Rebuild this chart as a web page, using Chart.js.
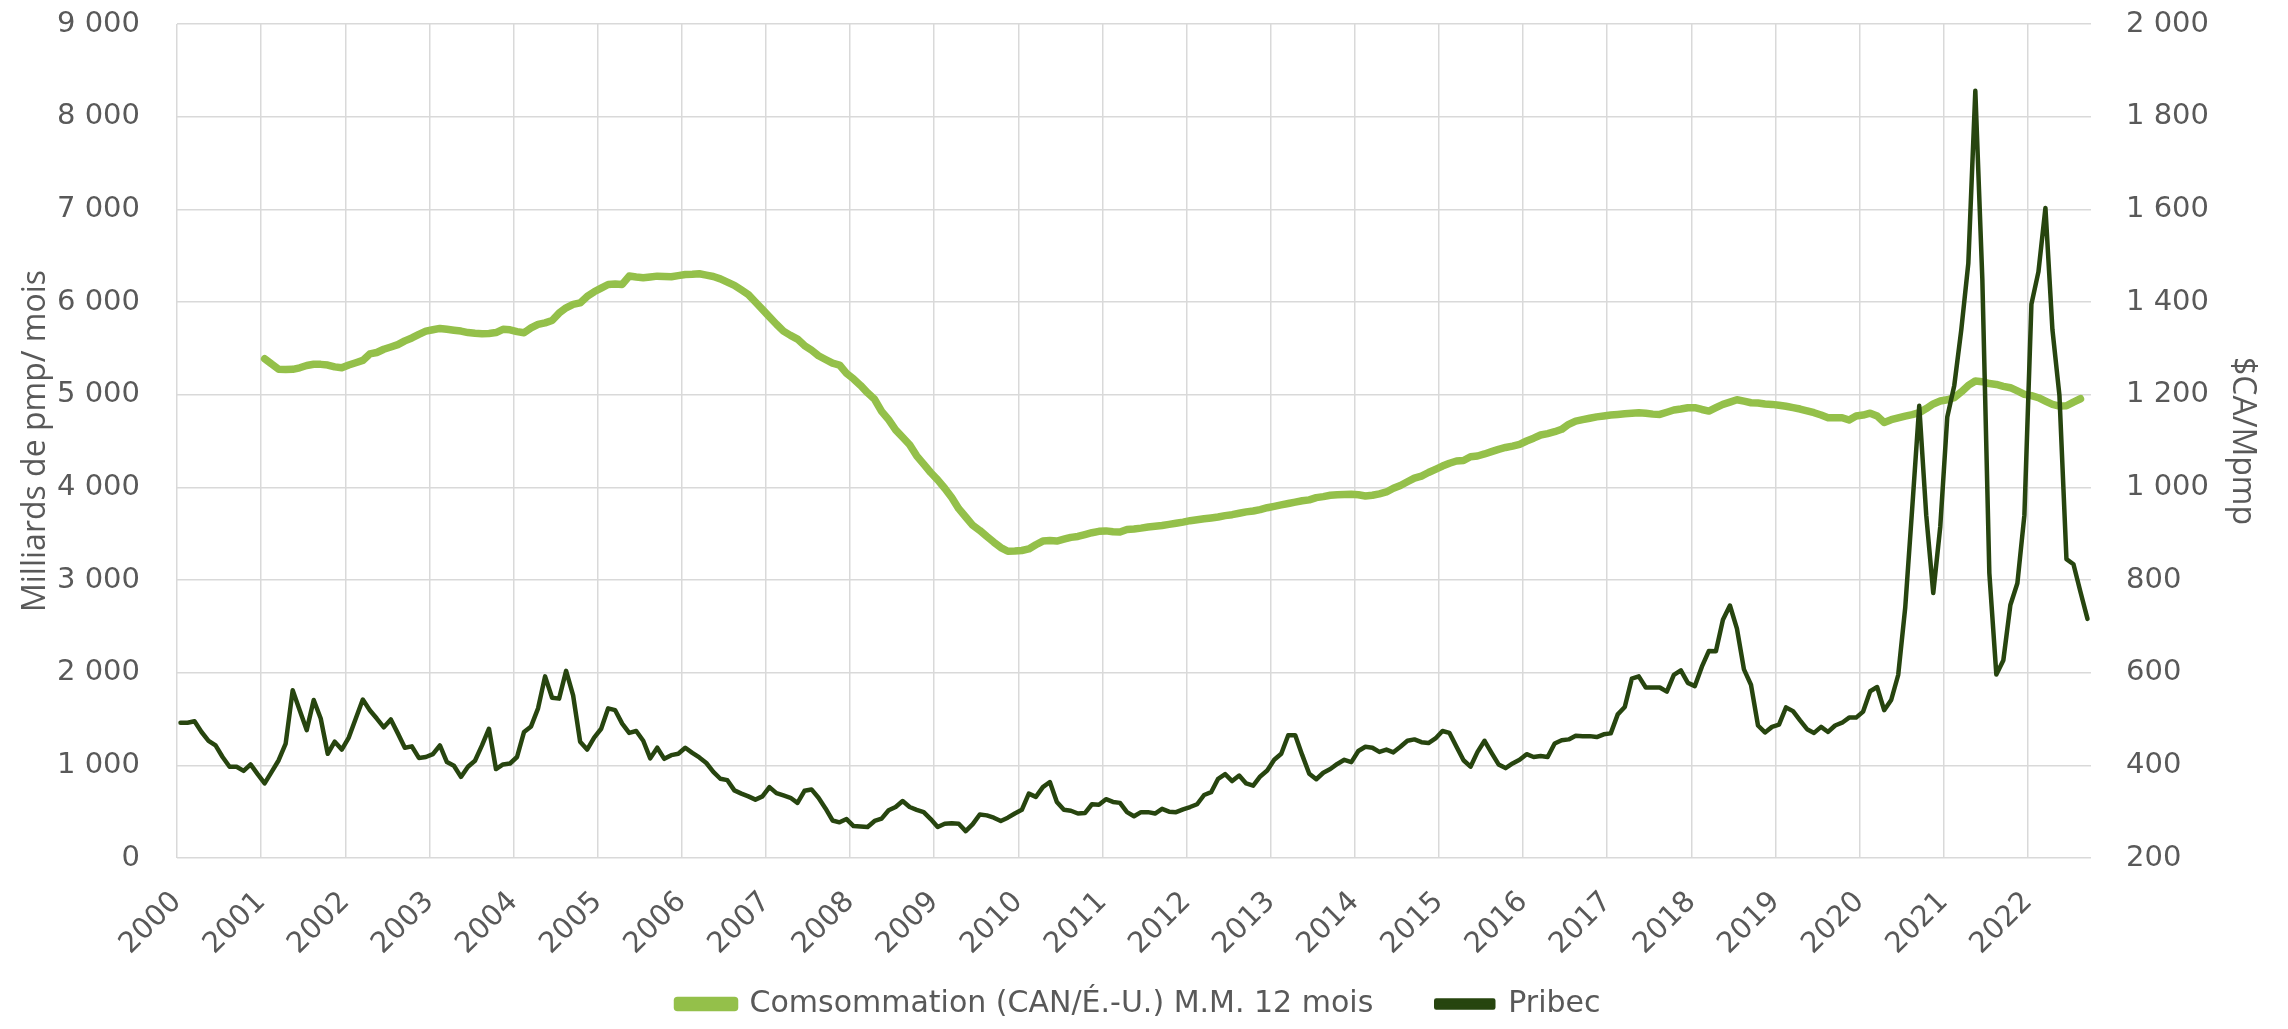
<!DOCTYPE html>
<html>
<head>
<meta charset="utf-8">
<script src="https://cdn.jsdelivr.net/npm/chart.js@4.4.1/dist/chart.umd.min.js"></script>
<style>
  html, body { margin: 0; padding: 0; background: #fff; }
  #chart { display: block; }
</style>
</head>
<body>
<canvas id="chart" width="2288" height="1029"></canvas>
<script>
// x axis labels, one per year (Jan 2000 -> 2022)
const years = ["2000","2001","2002","2003","2004","2005","2006","2007","2008","2009","2010",
  "2011","2012","2013","2014","2015","2016","2017","2018","2019","2020","2021","2022"];

// Pribec, $CA/Mpmp, monthly from Jan 2000 to Sep 2022 (right axis)
const pribec = [
  492, 492, 495, 472, 453, 443, 418, 397, 397, 388, 402, 381,   // 2000
  361, 386, 411, 447, 562, 519, 476, 541, 501, 425, 451, 434,   // 2001
  460, 501, 542, 519, 501, 482, 499, 469, 438, 441, 416, 418,   // 2002
  424, 443, 407, 399, 375, 397, 410, 443, 479, 392, 402, 404,   // 2003
  418, 472, 484, 523, 592, 546, 544, 604, 551, 451, 434, 460,   // 2004
  479, 523, 519, 490, 470, 474, 453, 415, 438, 414, 422, 425,   // 2005
  438, 427, 417, 405, 386, 371, 368, 346, 339, 333, 326, 333,   // 2006
  353, 340, 335, 330, 319, 345, 348, 330, 307, 281, 277, 284,   // 2007
  269, 268, 267, 280, 285, 303, 310, 323, 310, 304, 299, 284,   // 2008
  267, 274, 275, 274, 258, 273, 294, 292, 287, 280, 287, 296,   // 2009
  304, 339, 332, 353, 364, 321, 304, 302, 296, 297, 316, 315,   // 2010
  327, 321, 319, 299, 290, 299, 299, 296, 306, 300, 299, 305,   // 2011
  310, 316, 336, 342, 371, 381, 366, 378, 361, 356, 376, 389,   // 2012
  412, 425, 465, 465, 422, 382, 370, 384, 392, 403, 412, 407,   // 2013
  431, 440, 438, 429, 434, 428, 440, 453, 456, 450, 448, 458,   // 2014
  474, 470, 440, 411, 397, 429, 453, 427, 402, 394, 404, 412,   // 2015
  424, 418, 420, 418, 447, 454, 456, 464, 463, 463, 461, 467,   // 2016
  469, 510, 526, 587, 592, 568, 568, 568, 559, 595, 605, 578,   // 2017
  571, 613, 647, 646, 714, 745, 695, 607, 574, 486, 471, 483,   // 2018
  488, 525, 517, 497, 478, 470, 483, 472, 486, 492, 503, 503,   // 2019
  516, 560, 569, 519, 541, 595, 740, 955, 1176, 940, 772, 915,  // 2020
  1152, 1220, 1340, 1483, 1856, 1450, 815, 596, 627, 746, 793, 940, // 2021
  1395, 1465, 1603, 1340, 1198, 845, 834, 774, 716              // 2022
];

// Consumption CAN/US, 12-month moving average, from Jan 2001 (left axis)
const consumptionStart = 12; // month index of Jan 2001
const consumption = [
  5388, 5330, 5275, 5272, 5273, 5290, 5315, 5328, 5327, 5320, 5300, 5290,   // 2001
  5320, 5345, 5370, 5440, 5455, 5490, 5515, 5540, 5580, 5612, 5650, 5685,   // 2002
  5700, 5715, 5705, 5695, 5686, 5670, 5662, 5657, 5660, 5670, 5705, 5700,   // 2003
  5680, 5668, 5720, 5758, 5775, 5800, 5880, 5937, 5975, 5990, 6060, 6110,   // 2004
  6150, 6189, 6195, 6190, 6280, 6270, 6262, 6270, 6279, 6275, 6272, 6285,   // 2005
  6297, 6300, 6305, 6290, 6275, 6250, 6215, 6180, 6130, 6080, 6000, 5920,   // 2006
  5840, 5760, 5686, 5640, 5600, 5530, 5480, 5420, 5380, 5340, 5320, 5230,   // 2007
  5170, 5100, 5020, 4950, 4820, 4730, 4620, 4540, 4460, 4340, 4250, 4160,   // 2008
  4080, 3990, 3890, 3770, 3680, 3590, 3535, 3470, 3408, 3350, 3310, 3312,   // 2009
  3318, 3335, 3380, 3420, 3425, 3420, 3440, 3460, 3470, 3490, 3510, 3525,   // 2010
  3530, 3520, 3518, 3545, 3550, 3560, 3572, 3580, 3588, 3600, 3612, 3625,   // 2011
  3640, 3650, 3660, 3670, 3680, 3695, 3705, 3720, 3735, 3745, 3760, 3780,   // 2012
  3795, 3810, 3825, 3840, 3855, 3865, 3889, 3900, 3914, 3920, 3922, 3925,   // 2013
  3920, 3907, 3915, 3930, 3950, 3990, 4020, 4060, 4100, 4122, 4160, 4194,   // 2014
  4230, 4260, 4284, 4290, 4330, 4338, 4360, 4385, 4410, 4430, 4445, 4464,   // 2015
  4500, 4530, 4565, 4580, 4600, 4626, 4680, 4715, 4730, 4745, 4760, 4770,   // 2016
  4780, 4787, 4795, 4800, 4805, 4800, 4790, 4787, 4810, 4834, 4845, 4859,   // 2017
  4860, 4840, 4823, 4860, 4895, 4920, 4945, 4930, 4913, 4910, 4900, 4895,   // 2018
  4885, 4875, 4860, 4845, 4825, 4805, 4780, 4751, 4752, 4751, 4726, 4769,   // 2019
  4780, 4800, 4770, 4700, 4730, 4750, 4769, 4785, 4805, 4850, 4900, 4931,   // 2020
  4945, 4967, 5030, 5100, 5147, 5140, 5120, 5110, 5090, 5075, 5040, 5003,   // 2021
  4990, 4967, 4930, 4895, 4877, 4880, 4920, 4956                            // 2022
];

const lightGreen = "#94c04a";
const darkGreen = "#27450f";
const textGray = "#595959";
const gridGray = "#d9d9d9";

// "9000" -> "9 000"
function fmt(v) {
  return String(v).replace(/\B(?=(\d{3})+(?!\d))/g, " ");
}

const tickFont = { family: "DejaVu Sans", size: 29 };
const legendFont = { family: "DejaVu Sans", size: 30 };
const titleFont = { family: "Open Sans", size: 32 };

// keep the plot area where the reference has it
function fitY(width) {
  return (scale) => {
    scale.width = width;
    scale.paddingTop = 0;
    scale.paddingBottom = 0;
  };
}

// the year labels hang down past the x axis box, into the legend band;
// let them draw there instead of being clipped
const unclipYears = {
  id: "unclipYears",
  afterLayout(chart) {
    chart.scales.x.bottom = chart.height;
  }
};

new Chart(document.getElementById("chart"), {
  type: "line",
  data: {
    datasets: [
      {
        label: "Comsommation (CAN/É.-U.) M.M. 12 mois",
        data: consumption.map((v, i) => ({ x: consumptionStart + i + 0.5, y: v })),
        yAxisID: "y",
        borderColor: lightGreen,
        backgroundColor: lightGreen,
        borderWidth: 7.5,
        borderCapStyle: "round",
        borderJoinStyle: "round",
        pointRadius: 0,
        tension: 0,
        order: 2
      },
      {
        label: "Pribec",
        data: pribec.map((v, i) => ({ x: i + 0.5, y: v })),
        yAxisID: "y1",
        borderColor: darkGreen,
        backgroundColor: darkGreen,
        borderWidth: 4.5,
        borderCapStyle: "round",
        borderJoinStyle: "round",
        pointRadius: 0,
        tension: 0,
        order: 1
      }
    ]
  },
  plugins: [unclipYears],
  options: {
    responsive: false,
    animation: false,
    devicePixelRatio: 1,
    layout: { padding: { top: 24, left: 13, right: 23, bottom: 0 } },
    plugins: {
      tooltip: { enabled: false },
      legend: {
        position: "bottom",
        labels: {
          font: legendFont,
          color: textGray,
          boxWidth: 57,
          boxHeight: 7,
          padding: 63,
          sort: (a, b) => a.datasetIndex - b.datasetIndex
        }
      }
    },
    scales: {
      x: {
        type: "linear",
        min: 0,
        max: 273,
        afterBuildTicks: (axis) => {
          axis.ticks = years.map((y, i) => ({ value: i * 12 }));
        },
        afterFit: (scale) => { scale.height = 68; },
        grid: { color: gridGray, lineWidth: 1.5, drawTicks: false },
        border: { display: false },
        ticks: {
          autoSkip: false,
          minRotation: 45,
          maxRotation: 45,
          padding: 27,
          color: textGray,
          font: tickFont,
          callback: (v) => years[v / 12]
        }
      },
      y: {
        position: "left",
        min: 0,
        max: 9000,
        afterFit: fitY(164),
        grid: { color: gridGray, lineWidth: 1.5, drawTicks: false },
        border: { display: false },
        ticks: { stepSize: 1000, padding: 37, color: textGray, font: tickFont, callback: fmt },
        title: { display: true, text: "Milliards de pmp/ mois", color: textGray, font: titleFont }
      },
      y1: {
        position: "right",
        min: 200,
        max: 2000,
        afterFit: fitY(174),
        grid: { display: false, drawTicks: false },
        border: { display: false },
        ticks: { stepSize: 200, padding: 35, color: textGray, font: tickFont, callback: fmt },
        title: { display: true, text: "$CA/Mpmp", color: textGray, font: titleFont }
      }
    }
  }
});
</script>
</body>
</html>
